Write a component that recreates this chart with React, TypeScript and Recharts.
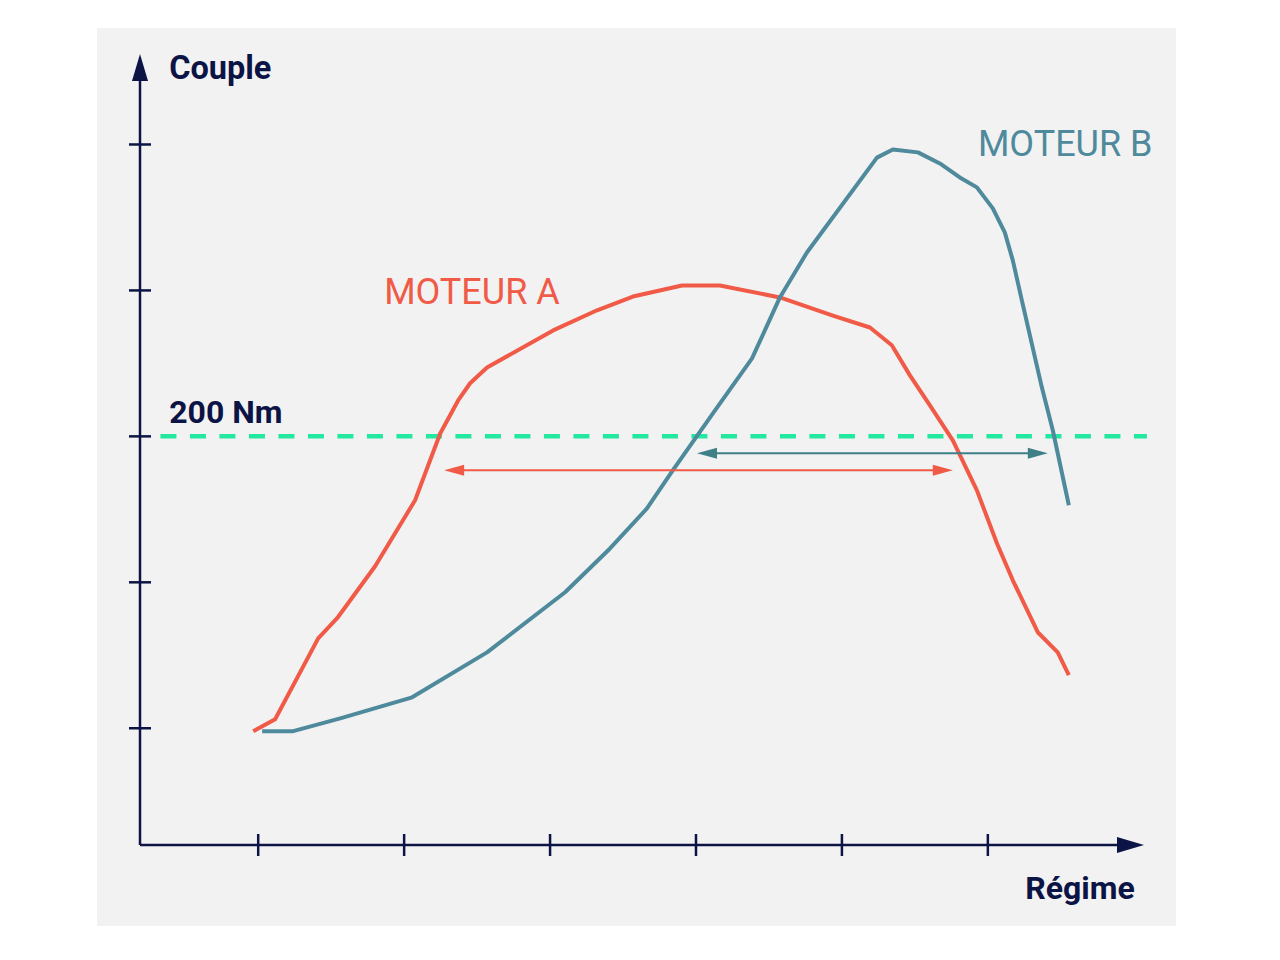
import React from 'react';
import { LineChart, Line, XAxis, YAxis, ReferenceLine, ReferenceDot } from 'recharts';

// Régime (tr/min) and couple (Nm)
const regimeA = [966, 1116, 1411, 1541, 1801, 2075, 2247, 2370, 2452, 2568, 3021, 3322, 3568, 3904, 4164, 4575, 4938, 5192, 5342, 5466, 5603, 5760, 5925, 6062, 6171, 6342, 6479, 6555];
const coupleA = [99, 103.1, 130.8, 137.7, 155.5, 178.1, 201, 212.3, 218.2, 223.6, 236.3, 243.2, 247.9, 251.7, 251.7, 247.6, 241.4, 237.3, 231.2, 220.9, 210.6, 198.6, 181.5, 163.4, 150.7, 132.9, 126, 118.2];

const regimeB = [1027, 1240, 1562, 2055, 2568, 3103, 3411, 3664, 3842, 4116, 4384, 4575, 4760, 5240, 5349, 5521, 5671, 5808, 5925, 6034, 6116, 6171, 6233, 6370, 6445, 6555];
const coupleB = [99, 99, 103.4, 110.6, 126, 146.6, 161.6, 175.3, 188.4, 207.9, 226.7, 247.6, 263, 295.5, 298.3, 297.3, 293.5, 288.7, 285.3, 278.1, 269.9, 260.3, 246.6, 216.8, 202.1, 176.4];

const xTicks = [1000, 2000, 3000, 4000, 5000, 6000];
const yTicks = [100, 150, 200, 250, 300];
const xDomain = [190, 7070];
const yDomain = [60, 331];

const seuil = 200;
const seuilSpan = [330, 7090];
const plageA = [2274, 5760];
const niveauA = 188.4;
const plageB = [4007, 6411];
const niveauB = 194.2;

const dataA = regimeA.map((x, i) => ({ x, y: coupleA[i] }));
const dataB = regimeB.map((x, i) => ({ x, y: coupleB[i] }));

const NAVY = '#0c1445';
const RED = '#f05a47';
const TEAL = '#4e8a9c';
const TEAL_ARROW = '#3f8088';
const GREEN = '#22e8a0';
const FONT = 'Roboto, "Noto Sans", sans-serif';

const XTick = (p: any) => (
  <line x1={p.x} x2={p.x} y1={p.y - 11} y2={p.y + 11} stroke={NAVY} strokeWidth={2.5} />
);
const YTick = (p: any) => (
  <line x1={p.x - 11} x2={p.x + 11} y1={p.y} y2={p.y} stroke={NAVY} strokeWidth={2.5} />
);

const AxisArrow = (p: any) => {
  const { x1, y1, x2, y2 } = p;
  const dx = x2 - x1;
  const dy = y2 - y1;
  const len = Math.sqrt(dx * dx + dy * dy) || 1;
  const ux = dx / len;
  const uy = dy / len;
  const L = 27;
  const W = 8;
  const bx = x2 - ux * L;
  const by = y2 - uy * L;
  return (
    <g>
      <line x1={x1} y1={y1} x2={bx + ux * 2} y2={by + uy * 2} stroke={NAVY} strokeWidth={2.5} />
      <polygon
        points={`${x2},${y2} ${bx - uy * W},${by + ux * W} ${bx + uy * W},${by - ux * W}`}
        fill={NAVY}
      />
    </g>
  );
};

const makeDoubleArrow = (color: string) => (p: any) => {
  const { x1, y1, x2, y2 } = p;
  const L = 20;
  const W = 5.5;
  const left = Math.min(x1, x2);
  const right = Math.max(x1, x2);
  const y = (y1 + y2) / 2;
  return (
    <g>
      <line x1={left + L - 2} y1={y} x2={right - L + 2} y2={y} stroke={color} strokeWidth={2} />
      <polygon points={`${left},${y} ${left + L},${y - W} ${left + L},${y + W}`} fill={color} />
      <polygon points={`${right},${y} ${right - L},${y - W} ${right - L},${y + W}`} fill={color} />
    </g>
  );
};

const makeText = (
  text: string,
  opts: { size: number; weight: number; color: string; anchor?: string }
) => (p: any) => (
  <text
    x={p.cx}
    y={p.cy}
    fontFamily={FONT}
    fontSize={opts.size}
    fontWeight={opts.weight}
    fill={opts.color}
    textAnchor={opts.anchor || 'start'}
  >
    {text}
  </text>
);

export default function App() {
  return (
    <div style={{ paddingLeft: 89, paddingTop: 20 }}>
      <div style={{ width: 1079, height: 898, background: '#f2f2f2' }}>
        <LineChart
          width={1079}
          height={898}
          margin={{ top: 26, right: 32, bottom: 80, left: 42 }}
        >
          <XAxis
            type="number"
            dataKey="x"
            domain={xDomain}
            ticks={xTicks}
            allowDataOverflow
            height={1}
            axisLine={false}
            tickLine={false}
            tickSize={0}
            tickMargin={0}
            tick={XTick}
            interval={0}
          />
          <YAxis
            type="number"
            dataKey="y"
            domain={yDomain}
            ticks={yTicks}
            allowDataOverflow
            width={1}
            axisLine={false}
            tickLine={false}
            tickSize={0}
            tickMargin={0}
            tick={YTick}
            interval={0}
          />
          <ReferenceLine
            segment={[{ x: seuilSpan[0], y: seuil }, { x: seuilSpan[1], y: seuil }]}
            stroke={GREEN}
            strokeWidth={4.5}
            strokeDasharray="16 13.5"
            ifOverflow="visible"
          />
          <ReferenceLine
            segment={[{ x: xDomain[0], y: yDomain[0] }, { x: xDomain[0], y: yDomain[1] }]}
            ifOverflow="visible"
            shape={AxisArrow}
          />
          <ReferenceLine
            segment={[{ x: xDomain[0], y: yDomain[0] }, { x: xDomain[1], y: yDomain[0] }]}
            ifOverflow="visible"
            shape={AxisArrow}
          />
          <Line
            data={dataA}
            dataKey="y"
            type="linear"
            stroke={RED}
            strokeWidth={4}
            dot={false}
            activeDot={false}
            isAnimationActive={false}
            strokeLinejoin="round"
          />
          <Line
            data={dataB}
            dataKey="y"
            type="linear"
            stroke={TEAL}
            strokeWidth={4}
            dot={false}
            activeDot={false}
            isAnimationActive={false}
            strokeLinejoin="round"
          />
          <ReferenceLine
            segment={[{ x: plageB[0], y: niveauB }, { x: plageB[1], y: niveauB }]}
            ifOverflow="visible"
            shape={makeDoubleArrow(TEAL_ARROW)}
          />
          <ReferenceLine
            segment={[{ x: plageA[0], y: niveauA }, { x: plageA[1], y: niveauA }]}
            ifOverflow="visible"
            shape={makeDoubleArrow(RED)}
          />
          <ReferenceDot x={390} y={322.6} ifOverflow="visible" shape={makeText('Couple', { size: 32.5, weight: 700, color: NAVY })} />
          <ReferenceDot x={390} y={204.5} ifOverflow="visible" shape={makeText('200 Nm', { size: 32, weight: 700, color: NAVY })} />
          <ReferenceDot x={7007} y={41.4} ifOverflow="visible" shape={makeText('Régime', { size: 32, weight: 700, color: NAVY, anchor: 'end' })} />
          <ReferenceDot x={1863} y={245.5} ifOverflow="visible" shape={makeText('MOTEUR A', { size: 36, weight: 400, color: RED })} />
          <ReferenceDot x={5932} y={295.9} ifOverflow="visible" shape={makeText('MOTEUR B', { size: 36, weight: 400, color: TEAL })} />
        </LineChart>
      </div>
    </div>
  );
}
